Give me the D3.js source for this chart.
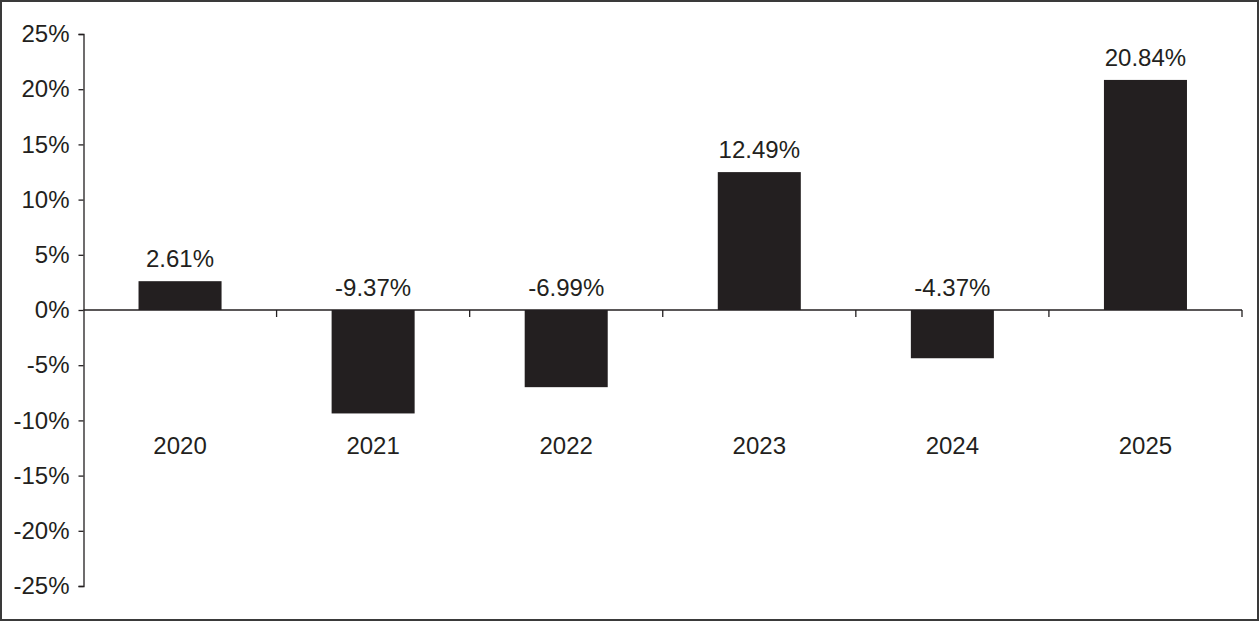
<!DOCTYPE html>
<html>
<head>
<meta charset="utf-8">
<script src="https://cdn.jsdelivr.net/npm/d3@7"></script>
<style>
  html, body { margin: 0; padding: 0; background: #fff; }
  svg { display: block; }
  text { font-family: "Liberation Sans", Arial, Helvetica, sans-serif; fill: #231f20; }
</style>
</head>
<body>
<div id="chart"></div>
<script>
var years = ["2020", "2021", "2022", "2023", "2024", "2025"];
var returns = [2.61, -9.37, -6.99, 12.49, -4.37, 20.84];
var yTicks = [25, 20, 15, 10, 5, 0, -5, -10, -15, -20, -25];

var width = 1259, height = 621;
var margin = {top: 34, right: 17, bottom: 35, left: 83.5};
var ink = "#231f20";

var svg = d3.select("#chart").append("svg")
    .attr("width", width)
    .attr("height", height);

// frame round the whole picture
svg.append("rect")
    .attr("x", 1).attr("y", 1)
    .attr("width", width - 2).attr("height", height - 2)
    .attr("fill", "#fff")
    .attr("stroke", "#3a3a3a")
    .attr("stroke-width", 2);

var x = d3.scaleBand()
    .domain(years)
    .range([margin.left, width - margin.right])
    .paddingInner(0.57)
    .paddingOuter(0.285);

var y = d3.scaleLinear()
    .domain([-25, 25])
    .range([height - margin.bottom, margin.top]);

var step = x.step();
var fmt = function(d) { return d.toFixed(2) + "%"; };

// y axis
var yAxis = svg.append("g")
    .attr("transform", "translate(" + margin.left + ",0)")
    .call(d3.axisLeft(y).tickValues(yTicks).tickSize(5).tickPadding(9)
      .tickFormat(function(d) { return d + "%"; }));
yAxis.select(".domain").attr("stroke", ink).attr("stroke-width", 1.3);
yAxis.selectAll(".tick line").attr("stroke", ink).attr("stroke-width", 1.3);
yAxis.selectAll(".tick text")
    .attr("font-size", 24)
    .attr("font-family", "Liberation Sans, Arial, sans-serif")
    .attr("fill", ink);

// bars
svg.selectAll(".bar")
    .data(returns)
  .enter().append("rect")
    .attr("class", "bar")
    .attr("x", function(d, i) { return x(years[i]); })
    .attr("width", x.bandwidth())
    .attr("y", function(d) { return y(Math.max(0, d)); })
    .attr("height", function(d) { return Math.abs(y(d) - y(0)); })
    .attr("fill", ink);

// zero line with category ticks
var bounds = years.map(function(d) { return x(d) - step * x.paddingInner() / 2; })
    .concat([x(years[years.length - 1]) + x.bandwidth() + step * x.paddingInner() / 2]);

svg.append("line")
    .attr("x1", margin.left).attr("x2", bounds[bounds.length - 1])
    .attr("y1", y(0)).attr("y2", y(0))
    .attr("stroke", ink).attr("stroke-width", 1.3);

svg.selectAll(".xtick")
    .data(bounds.slice(1))
  .enter().append("line")
    .attr("class", "xtick")
    .attr("x1", function(d) { return d; }).attr("x2", function(d) { return d; })
    .attr("y1", y(0)).attr("y2", y(0) + 7)
    .attr("stroke", ink).attr("stroke-width", 1.3);

// category labels
svg.selectAll(".cat")
    .data(years)
  .enter().append("text")
    .attr("class", "cat")
    .attr("x", function(d) { return x(d) + x.bandwidth() / 2; })
    .attr("y", y(-10) + 34)
    .attr("text-anchor", "middle")
    .attr("font-size", 24)
    .text(function(d) { return d; });

// value labels, always above the bar or the zero line
svg.selectAll(".val")
    .data(returns)
  .enter().append("text")
    .attr("class", "val")
    .attr("x", function(d, i) { return x(years[i]) + x.bandwidth() / 2; })
    .attr("y", function(d) { return y(Math.max(0, d)) - 14; })
    .attr("text-anchor", "middle")
    .attr("font-size", 24)
    .text(fmt);
</script>
</body>
</html>
